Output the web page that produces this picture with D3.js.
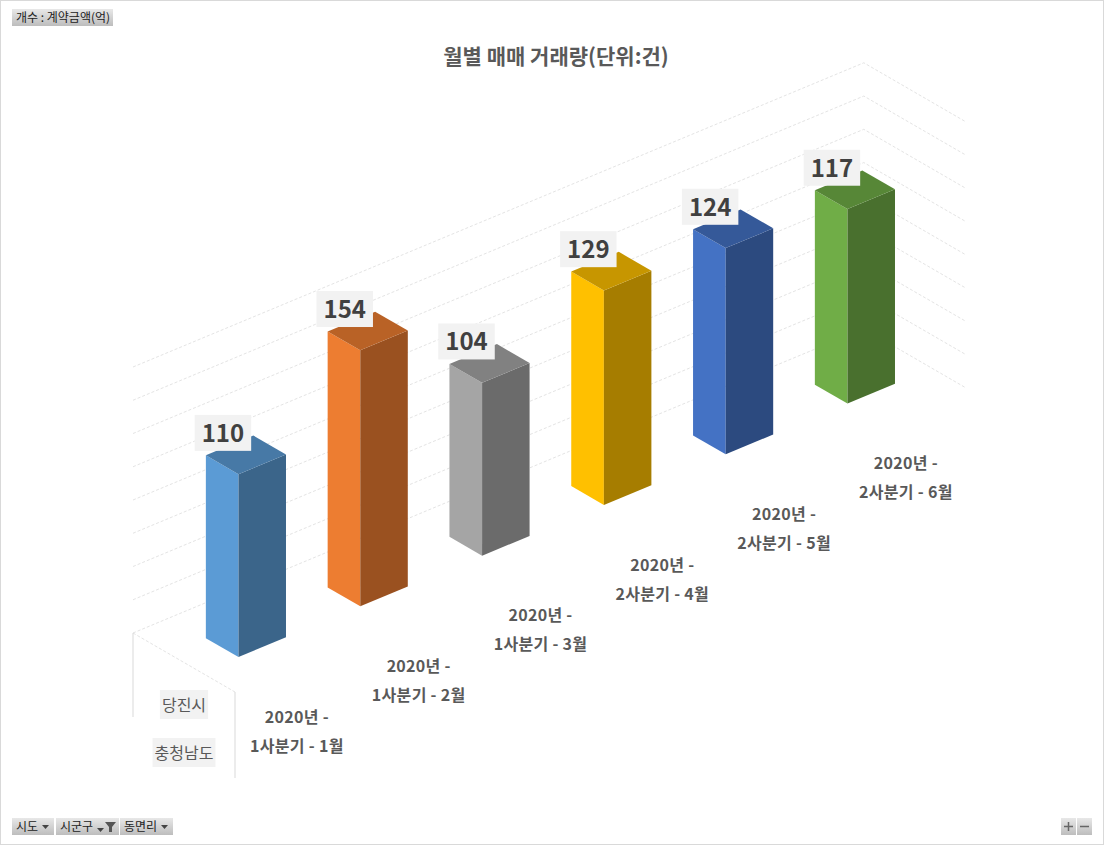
<!DOCTYPE html>
<html>
<head>
<meta charset="utf-8">
<script src="https://cdn.jsdelivr.net/npm/d3@7"></script>
<style>
  body { margin: 0; background: #fff; }
  text { font-family: "Noto Sans CJK KR", "Noto Sans", sans-serif; }
</style>
</head>
<body>
<svg id="chart" width="1104" height="845"></svg>
<script>
// data
let title = '월별 매매 거래량(단위:건)';
let periodLine1 = ['2020년 -', '2020년 -', '2020년 -', '2020년 -', '2020년 -', '2020년 -'];
let periodLine2 = ['1사분기 - 1월', '1사분기 - 2월', '1사분기 - 3월', '2사분기 - 4월', '2사분기 - 5월', '2사분기 - 6월'];
let counts = [110, 154, 104, 129, 124, 117];
let valueTicks = [0, 20, 40, 60, 80, 100, 120, 140, 160];
let regionLabels = ['당진시', '충청남도'];
let palette = ['#5B9BD5', '#ED7D31', '#A5A5A5', '#FFC000', '#4472C4', '#70AD47'];

let svg = d3.select('#chart');

// outer frame
svg.append('rect')
	.attr('x', 0.5).attr('y', 0.5)
	.attr('width', 1103).attr('height', 844)
	.attr('fill', '#fff')
	.attr('stroke', '#d9d9d9');

// oblique projection: u = category, v = depth, w = value
let catScale = d3.scaleBand()
	.domain(d3.range(counts.length))
	.range([0, counts.length])
	.paddingInner(0.61)
	.paddingOuter(0.305);

let valueScale = d3.scaleLinear().domain([0, 160]).range([0, 266]);

let origin = [133, 633];
function P(u, v, w) {
	return [origin[0] + 121.8 * u + 102 * v,
	        origin[1] - 50.7 * u + 59 * v - valueScale(w)];
}

let nCat = counts.length;

// walls
let grid = svg.append('g')
	.attr('fill', 'none')
	.attr('stroke', '#e4e4e4')
	.attr('stroke-width', 1)
	.attr('stroke-dasharray', '3,2');

valueTicks.forEach(function(t) {
	let a = P(0, 0, t), b = P(nCat, 0, t), c = P(nCat, 1, t);
	grid.append('polyline').attr('points', [a, b, c].map(p => p.join(',')).join(' '));
});
let f0 = P(0, 0, 0), f1 = P(0, 1, 0);
grid.append('line')
	.attr('x1', f0[0]).attr('y1', f0[1])
	.attr('x2', f1[0]).attr('y2', f1[1]);

// category table lines
svg.append('line')
	.attr('x1', f0[0]).attr('y1', f0[1]).attr('x2', f0[0]).attr('y2', f0[1] + 84)
	.attr('stroke', '#d9d9d9');
svg.append('line')
	.attr('x1', f1[0]).attr('y1', f1[1]).attr('x2', f1[0]).attr('y2', f1[1] + 86)
	.attr('stroke', '#d9d9d9');

// bars
let v0 = 0.35, v1 = 0.67;
let color = d3.scaleOrdinal().domain(d3.range(nCat)).range(palette);

function shade(c, k) {
	let r = d3.rgb(c);
	return d3.rgb(r.r * k, r.g * k, r.b * k).formatHex();
}

function poly(pts) {
	return 'M' + pts.map(p => p.join(',')).join('L') + 'Z';
}

let bars = svg.append('g');
counts.forEach(function(d, i) {
	let u0 = catScale(i), u1 = u0 + catScale.bandwidth();
	let g = bars.append('g');
	g.append('path')
		.attr('d', poly([P(u0, v0, 0), P(u0, v1, 0), P(u0, v1, d), P(u0, v0, d)]))
		.attr('fill', color(i));
	g.append('path')
		.attr('d', poly([P(u0, v1, 0), P(u1, v1, 0), P(u1, v1, d), P(u0, v1, d)]))
		.attr('fill', shade(color(i), 0.65));
	g.append('path')
		.attr('d', poly([P(u0, v0, d), P(u0, v1, d), P(u1, v1, d), P(u1, v0, d)]))
		.attr('fill', shade(color(i), 0.78));
});

// data labels
counts.forEach(function(d, i) {
	let c = P(catScale(i) + catScale.bandwidth() / 2, (v0 + v1) / 2, d);
	let cx = c[0] - 23, cy = c[1] - 22;
	let g = svg.append('g');
	let box = g.append('rect').attr('fill', '#f2f2f2');
	let t = g.append('text')
		.attr('x', cx).attr('y', cy + 9)
		.attr('text-anchor', 'middle')
		.attr('font-size', 24)
		.attr('font-weight', 'bold')
		.attr('fill', '#404040')
		.text(d);
	let w = t.node().getComputedTextLength() + 14;
	box.attr('x', cx - w / 2).attr('y', cy - 18).attr('width', w).attr('height', 36);
});

// category labels
counts.forEach(function(d, i) {
	let a = P(i + 0.5, 1, 0);
	let t = svg.append('text')
		.attr('text-anchor', 'middle')
		.attr('font-size', 16)
		.attr('letter-spacing', 0.3)
		.attr('font-weight', 'bold')
		.attr('fill', '#595959');
	t.append('tspan').attr('x', a[0] + 1).attr('y', a[1] + 56).text(periodLine1[i]);
	t.append('tspan').attr('x', a[0] + 1).attr('y', a[1] + 85).text(periodLine2[i]);
});

// region labels
let regionX = (f0[0] + f1[0]) / 2;
regionLabels.forEach(function(s, i) {
	let g = svg.append('g');
	let box = g.append('rect').attr('fill', '#f2f2f2');
	let y = i === 0 ? 711 : 759;
	let t = g.append('text')
		.attr('x', regionX).attr('y', y)
		.attr('text-anchor', 'middle')
		.attr('font-size', 16)
		.attr('fill', '#595959')
		.text(s);
	let w = t.node().getComputedTextLength() + 4;
	box.attr('x', regionX - w / 2).attr('y', y - 21).attr('width', w).attr('height', 29);
});

// title
svg.append('text')
	.attr('x', 556).attr('y', 64)
	.attr('text-anchor', 'middle')
	.attr('font-size', 21)
	.attr('font-weight', 'bold')
	.attr('fill', '#595959')
	.text(title);

// pivot field buttons
let defs = svg.append('defs');
let grad = defs.append('linearGradient').attr('id', 'btn').attr('x1', 0).attr('y1', 0).attr('x2', 0).attr('y2', 1);
grad.append('stop').attr('offset', '0%').attr('stop-color', '#e8e8e8');
grad.append('stop').attr('offset', '100%').attr('stop-color', '#bdbdbd');

function button(x, y, w, h, label) {
	let g = svg.append('g');
	g.append('rect').attr('x', x).attr('y', y).attr('width', w).attr('height', h).attr('fill', 'url(#btn)');
	if (label) {
		g.append('text').attr('x', x + 4).attr('y', y + h - 4)
			.attr('font-size', 12).attr('fill', '#222').text(label);
	}
	return g;
}
function arrow(g, x, y) {
	g.append('path').attr('d', `M${x},${y}L${x + 7},${y}L${x + 3.5},${y + 4}Z`).attr('fill', '#444');
}

button(12, 9, 101, 17, '개수 : 계약금액(억)');

let b1 = button(12, 818, 42, 17, '시도');
arrow(b1, 42, 825);
let b2 = button(56, 818, 63, 17, '시군구');
arrow(b2, 97, 828);
b2.append('path').attr('d', 'M105,822L116,822L112,827L112,832L109,832L109,827Z').attr('fill', '#555');
let b3 = button(120, 818, 53, 17, '동면리');
arrow(b3, 161, 825);

let bp = button(1061, 818, 15, 17, null);
bp.append('path').attr('d', 'M1064,826.5L1073,826.5M1068.5,822L1068.5,831').attr('stroke', '#666').attr('stroke-width', 1.5);
let bm = button(1077, 818, 15, 17, null);
bm.append('path').attr('d', 'M1080,826.5L1089,826.5').attr('stroke', '#666').attr('stroke-width', 1.5);
</script>
</body>
</html>
